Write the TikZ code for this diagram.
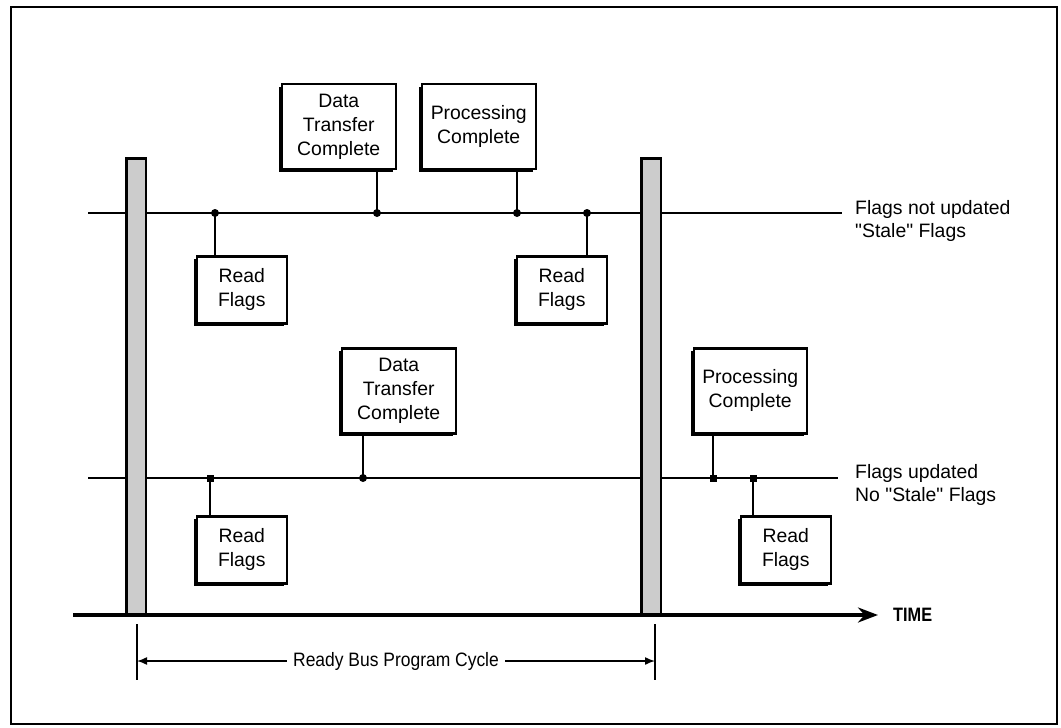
\documentclass[tikz,border=0pt]{standalone}
\usepackage{fontspec}
\usepackage{graphicx}
\setmainfont{Liberation Sans}
\newfontfamily\plainfont{Liberation Sans}
\usetikzlibrary{arrows.meta,shadows}
\newcommand{\dq}{{\plainfont"}}
\tikzset{
  evbox/.style={draw, line width=2.5pt, fill=white, align=center, inner sep=0pt,
    font=\fontsize{19.4}{24}\selectfont,
    drop shadow={shadow xshift=-2.5pt, shadow yshift=-2.5pt, opacity=1, fill=black}},
  readbox/.style={evbox, minimum width=90pt, minimum height=67pt},
  donebox/.style={evbox, minimum width=114pt, minimum height=85pt},
  rdot/.style={circle, fill=black, inner sep=0pt, minimum size=8pt},
  sdot/.style={rectangle, fill=black, inner sep=0pt, minimum size=7pt},
  sigline/.style={line width=2.5pt},
  cyclebar/.style={draw, line width=2.5pt, fill=black!20},
  lbl/.style={align=left, anchor=west, inner sep=0pt, font=\fontsize{19.4}{23}\selectfont},
}
\begin{document}
\begin{tikzpicture}[x=1pt,y=-1pt]
  \useasboundingbox (0,0) rectangle (1061,728);
  \draw[line width=2.5pt] (11,7) rectangle (1057,724);
  % signal lines
  \coordinate (a0) at (88,213);
  \coordinate (a1) at (842,213);
  \coordinate (b0) at (88,478);
  \coordinate (b1) at (838,478);
  \draw[sigline] (a0) -- (a1);
  \draw[sigline] (b0) -- (b1);
  % program cycle bars
  \draw[cyclebar] (126.25,158.25) rectangle (145.75,615);
  \draw[cyclebar] (641.25,158.25) rectangle (660.75,615);
  % time axis
  \coordinate (t0) at (73,615);
  \coordinate (t1) at (878,615);
  \draw[line width=4pt, -{Stealth[length=20pt,width=15pt]}] (t0) -- (t1);
  \node[anchor=west, inner sep=0pt, font=\fontsize{19.4}{23}\selectfont] (time) at (893,615)
    {\scalebox{0.84}[1]{\bfseries TIME}};
  % boxes
  \draw
    (338.75,126.5) node[donebox] (dtcA){Data\\Transfer\\Complete}
    (478.75,126.5) node[donebox] (prcA){Processing\\Complete}
    (241.75,289.75) node[readbox] (rdA){Read\\Flags}
    (561.75,289.75) node[readbox] (rdB){Read\\Flags}
    (398.75,390.75) node[donebox] (dtcB){Data\\Transfer\\Complete}
    (750.25,390.75) node[donebox, minimum width=113pt] (prcB){Processing\\Complete}
    (241.75,549.75) node[readbox] (rdC){Read\\Flags}
    (785.75,549.75) node[readbox] (rdD){Read\\Flags};
  % junctions
  \node[rdot] (u1) at (215,213) {};
  \node[rdot] (u2) at (377,213) {};
  \node[rdot] (u3) at (517,213) {};
  \node[rdot] (u4) at (587,213) {};
  \node[sdot] (l1) at (210,478) {};
  \node[rdot] (l2) at (363,478) {};
  \node[sdot] (l3) at (713,478) {};
  \node[sdot] (l4) at (753,478) {};
  \begin{scope}[sigline]
    \draw (u1.center) to (u1 |- rdA.north);
    \draw (u2.center) to (u2 |- dtcA.south);
    \draw (u3.center) to (u3 |- prcA.south);
    \draw (u4.center) to (u4 |- rdB.north);
    \draw (l1.center) to (l1 |- rdC.north);
    \draw (l2.center) to (l2 |- dtcB.south);
    \draw (l3.center) to (l3 |- prcB.south);
    \draw (l4.center) to (l4 |- rdD.north);
  \end{scope}
  % line labels
  \node[lbl] (stale) at (855,221) {Flags not updated\\\dq Stale\dq{} Flags};
  \node[lbl] (fresh) at (855,485) {Flags updated\\No \dq Stale\dq{} Flags};
  % cycle dimension
  \coordinate (c0) at (137,661);
  \coordinate (c1) at (655,661);
  \draw[line width=1.5pt] (c0) ++(0,-37) -- ++(0,56);
  \draw[line width=1.5pt] (c1) ++(0,-37) -- ++(0,56);
  \draw[line width=1.5pt, {Latex[length=10pt,width=8pt]}-{Latex[length=10pt,width=8pt]}]
    (c0) -- node[fill=white, inner xsep=6pt, inner ysep=1pt, font=\fontsize{19.4}{23}\selectfont] (cyc)
    {\scalebox{0.9}[1]{Ready Bus Program Cycle}} (c1);
\end{tikzpicture}
\end{document}
